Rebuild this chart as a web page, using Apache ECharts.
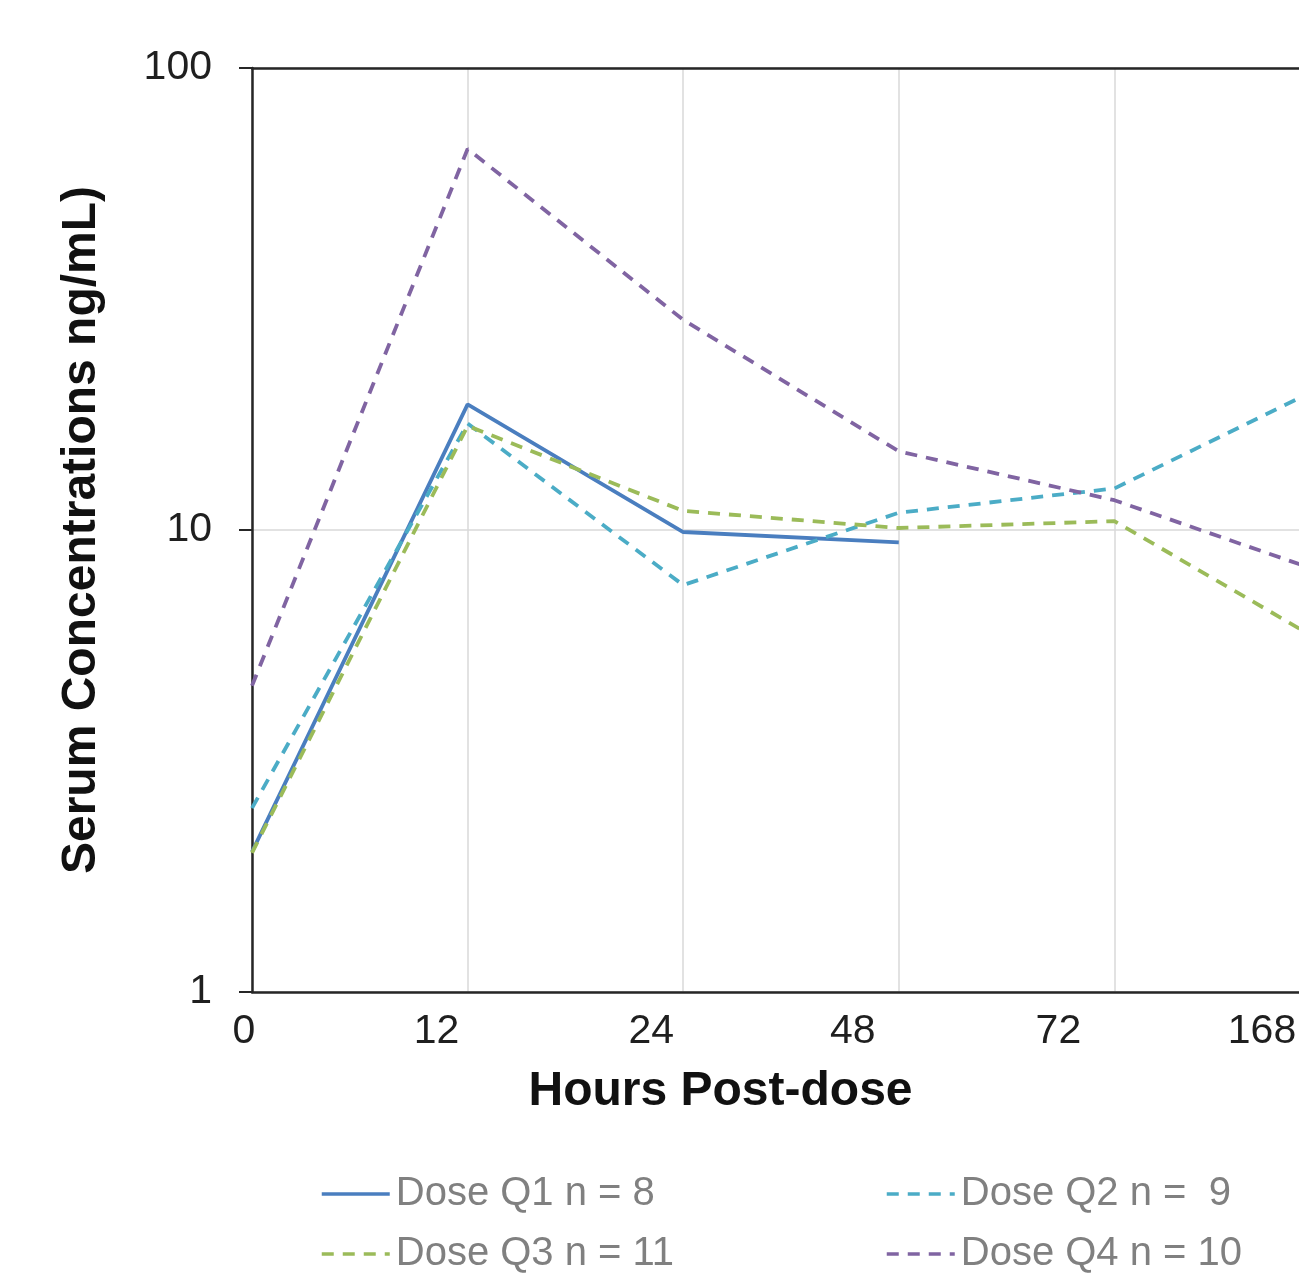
<!DOCTYPE html>
<html><head><meta charset="utf-8">
<script src="https://cdn.jsdelivr.net/npm/echarts@6/dist/echarts.min.js"></script>
<style>html,body{margin:0;padding:0;background:#fff;}#c{width:1299px;height:1277px;}</style>
</head><body><div id="c"></div>
<script>
// ---- data ----
const hours = ['0', '12', '24', '48', '72', '168'];
const doseQ1 = [2.01, 18.7, 9.9, 9.4, null, null];
const doseQ2 = [2.5, 17.0, 7.6, 10.9, 12.3, 20.8];
const doseQ3 = [2.0, 16.8, 11.0, 10.1, 10.45, 5.6];
const doseQ4 = [4.6, 66.8, 28.5, 14.8, 11.6, 8.0];
const seriesNames = ['Dose Q1 n = 8', 'Dose Q2 n =  9', 'Dose Q3 n = 11', 'Dose Q4 n = 10'];
const xTitle = 'Hours Post-dose';
const yTitle = 'Serum Concentrations ng/mL)';

// ---- layout / style ----
const FONT = "'Liberation Sans', Arial, Helvetica, sans-serif";
const labelShift = [8, 31, 32, 46, 56, 68];
const rich = {};
labelShift.forEach((d, i) => {
  rich['o' + i] = { fontSize: 41, fontFamily: FONT, color: '#1f1f1f', padding: [0, 2 * d, 0, 0] };
});
const dash = [12, 9];
const colors = ['#4a7ebf', '#4bacc6', '#9bbb59', '#8064a2'];
const AX = '#262626';

const chart = echarts.init(document.getElementById('c'), null, { renderer: 'canvas' });
const mk = (name, data, color, type) => ({
  name, type: 'line', data: data.map(v => v == null ? '-' : v),
  symbol: 'none', showSymbol: false, connectNulls: false,
  lineStyle: { color, width: 3.8, type, cap: 'butt' },
  itemStyle: { color }
});
const legendBase = {
  orient: 'vertical', top: 1174, padding: 0,
  itemWidth: 68, itemHeight: 14, itemGap: 20,
  itemStyle: { color: 'transparent', borderColor: 'transparent', borderWidth: 0, opacity: 0 },
  lineStyle: { width: 3.5 },
  textStyle: { fontSize: 40, fontFamily: FONT, color: '#808080', lineHeight: 40, padding: [0, 0, 0, 1] }
};
chart.setOption({
  animation: false,
  backgroundColor: '#fff',
  grid: { left: 252, top: 68, width: 1078, height: 924, containLabel: false, outerBoundsMode: 'none' },
  xAxis: [{
    type: 'category', data: hours, boundaryGap: false,
    axisLine: { lineStyle: { color: AX, width: 2.5 } },
    axisTick: { show: false },
    splitLine: { show: true, lineStyle: { color: '#d9d9d9', width: 1.5 } },
    axisLabel: { interval: 0, margin: 19, formatter: (v, i) => `{o${i}|${v}}`, rich },
    name: xTitle, nameLocation: 'middle', nameGap: 76,
    nameTextStyle: { fontSize: 48, fontWeight: 'bold', fontFamily: FONT, color: '#111', padding: [0, 141, 0, 0] }
  }, {
    type: 'category', data: hours, boundaryGap: false, position: 'top',
    axisLine: { show: true, lineStyle: { color: AX, width: 2.5 } },
    axisTick: { show: false }, axisLabel: { show: false }, splitLine: { show: false }
  }],
  yAxis: {
    type: 'log', logBase: 10, min: 1, max: 100,
    axisLine: { show: true, lineStyle: { color: AX, width: 2.5 } },
    axisTick: { show: true, length: 13, lineStyle: { color: AX, width: 2 } },
    splitLine: { show: true, lineStyle: { color: '#d9d9d9', width: 1.5 } },
    axisLabel: { fontSize: 41, fontFamily: FONT, color: '#1f1f1f', margin: 40 },
    name: yTitle, nameLocation: 'middle', nameGap: 146, nameRotate: 90,
    nameTextStyle: { fontSize: 48, fontWeight: 'bold', fontFamily: FONT, color: '#111' }
  },
  legend: [
    Object.assign({}, legendBase, { data: [seriesNames[0], seriesNames[2]], left: 320 }),
    Object.assign({}, legendBase, { data: [seriesNames[1], seriesNames[3]], left: 885 })
  ],
  series: [
    mk(seriesNames[0], doseQ1, colors[0], 'solid'),
    mk(seriesNames[1], doseQ2, colors[1], dash),
    mk(seriesNames[2], doseQ3, colors[2], dash),
    mk(seriesNames[3], doseQ4, colors[3], dash)
  ]
});
</script></body></html>
